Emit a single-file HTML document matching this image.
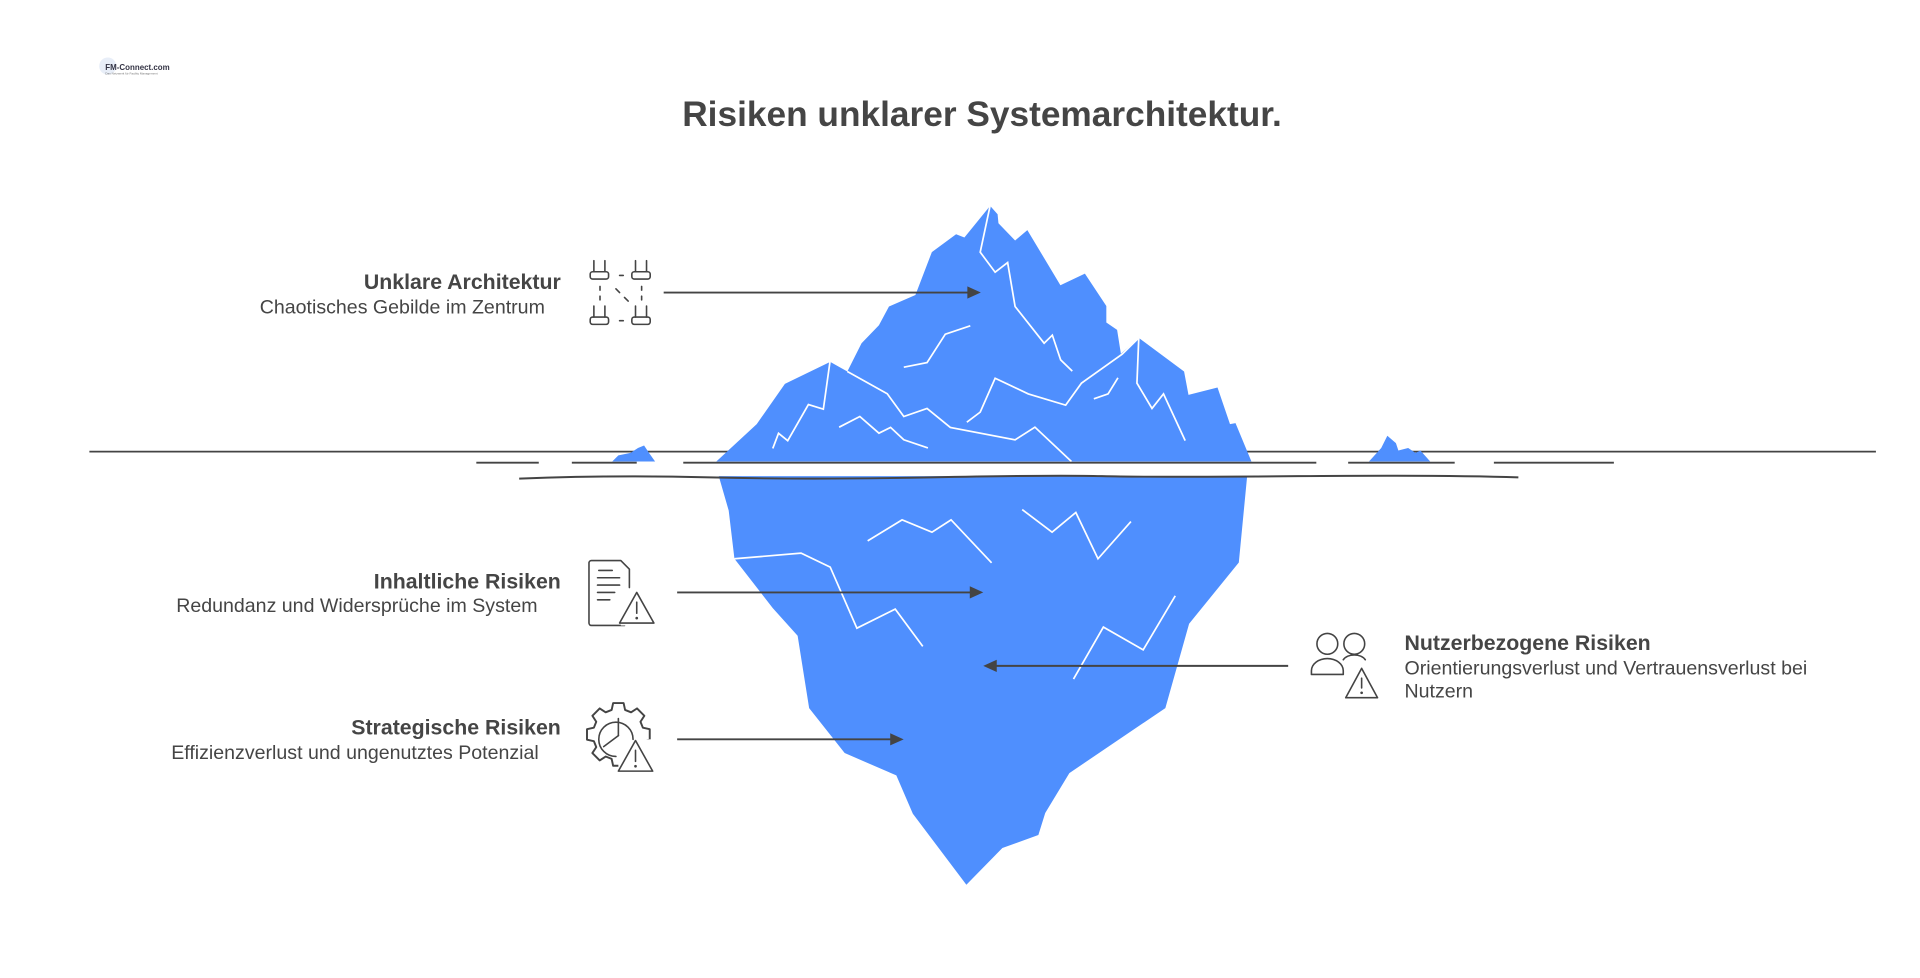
<!DOCTYPE html>
<html><head><meta charset="utf-8"><style>
html,body{margin:0;padding:0;background:#fff;width:1920px;height:978px;overflow:hidden}
svg{display:block}
text{font-family:"Liberation Sans",Arial,sans-serif;fill:#454545}
</style></head><body>
<svg width="1920" height="978" viewBox="0 0 1568 799" preserveAspectRatio="none" xmlns="http://www.w3.org/2000/svg">
<rect width="1568" height="799" fill="#fff"/>
<!-- logo -->
<circle cx="88" cy="54" r="7" fill="#e8eef8"/>
<text x="86" y="57" font-size="6.5" font-weight="bold" style="fill:#334">FM-Connect.com</text>
<text x="86" y="61" font-size="2.5" style="fill:#777">Das Netzwerk für Facility Management</text>

<text x="802" y="103" font-size="28.8" font-weight="bold" text-anchor="middle">Risiken unklarer Systemarchitektur.</text>

<!-- water lines -->
<line x1="73" y1="369" x2="1532" y2="369" stroke="#444" stroke-width="1.4"/>

<!-- iceberg top -->
<polygon fill="#4F8FFE" points="585,377 618,346.5 641,313.6 678,295.6 692,303.5 703.6,280.4 717.8,265.7 726,250.4 747.6,241 761,206 780.8,191.4 787.6,194 808.6,168.2 814.7,175 815.4,182.4 829,196.5 839,188 866,233 886,223.5 903.5,250 903.5,263.5 912.3,269.5 915.4,289 930,276 967,303.5 970.6,322.6 994.3,316.6 1004.5,346.5 1009,345.7 1022,377"/>
<g fill="none" stroke="#fff" stroke-width="1.4">
<polyline points="808.6,168 800.5,206 812.7,222.4 822.9,214.5 829,250.4 852.7,280.4 859.4,273.8 866.2,294 875.7,303.2"/>
<polyline points="738.1,300 757.1,296.2 772,273 792.4,266.2"/>
<polyline points="677.8,295.6 672.4,334.3 660.2,330.5 643.3,360 635.8,354 631.1,366.4"/>
<polyline points="692,303.5 724.6,321.7 738.1,340.3 757.1,333.7 776.1,349.2 829,359.3 845.2,349 875,377"/>
<polyline points="685.3,349 702.2,340.3 717.8,353.9 727.3,349.2 738.1,359.3 757.8,366"/>
<polyline points="789.6,344.9 800.5,336.7 812.7,309 839.8,321.8 870.3,331 883.2,313 916.4,289.4 930,276"/>
<polyline points="893.3,325.8 904.9,321.8 913,308.7"/>
<polyline points="930,276 928.5,313 940.8,333.7 950.2,321.8 967.9,360"/>
</g>
<!-- small icebergs -->
<polygon fill="#4F8FFE" points="500,377 505,372 515,370 521,366 526,364 530,370 535,377"/>
<polygon fill="#4F8FFE" points="1118,377 1128,366 1133,356 1140,362 1142,368 1150,366 1156,370 1160,368 1168,377"/>

<!-- iceberg bottom -->
<polygon fill="#4F8FFE" points="586.7,388 595.1,417.1 599.8,456.5 631.1,496.8 651.4,519.4 660.8,578.5 689.8,615.2 732,633.5 745.5,664.8 789.2,722.8 818.6,692.8 848,682.2 853.6,664.2 873.3,631.6 951.7,578.5 971.1,509.6 1011.7,459.5 1018.6,388"/>
<g fill="none" stroke="#fff" stroke-width="1.4">
<polyline points="599.8,456.5 654.2,451.9 678,463.3 699.8,513.2 731.1,497.6 753.6,528.1"/>
<polyline points="708.6,441.9 736.7,424.7 761.1,434.8 776.7,424.7 809.8,459.8"/>
<polyline points="834.8,416.3 859.2,434.8 878.6,418.7 896.7,456.5 923.6,426.1"/>
<polyline points="876.7,554.8 901.1,512.3 933.6,530.9 959.8,486.8"/>
</g>

<!-- white band & lines -->
<rect x="560" y="379" width="480" height="10" fill="#fff"/>
<g stroke="#444" stroke-width="1.6" fill="none">
<line x1="389" y1="378" x2="440" y2="378"/>
<line x1="467" y1="378" x2="520" y2="378"/>
<line x1="558" y1="378" x2="1075" y2="378"/>
<line x1="1101" y1="378" x2="1188" y2="378"/>
<line x1="1220" y1="378" x2="1318" y2="378"/>
<path d="M424,391 Q500,388 580,390 T760,390 T900,389 T1060,389 T1240,390"/>
</g>

<!-- arrows -->
<g stroke="#444" stroke-width="1.6">
<line x1="542" y1="239" x2="792" y2="239"/>
<line x1="553" y1="484" x2="794" y2="484"/>
<line x1="553" y1="604" x2="729" y2="604"/>
<line x1="812" y1="544" x2="1052" y2="544"/>
</g>
<g fill="#444">
<polygon points="801,239 790,234 790,244"/>
<polygon points="803,484 792,479 792,489"/>
<polygon points="738,604 727,599 727,609"/>
<polygon points="803,544 814,539 814,549"/>
</g>

<!-- texts -->
<text x="458" y="236" font-size="17.4" font-weight="bold" text-anchor="end">Unklare Architektur</text>
<text x="445" y="256" font-size="16" text-anchor="end">Chaotisches Gebilde im Zentrum</text>
<text x="458" y="481" font-size="17.4" font-weight="bold" text-anchor="end">Inhaltliche Risiken</text>
<text x="439" y="500" font-size="16" text-anchor="end">Redundanz und Widersprüche im System</text>
<text x="458" y="600" font-size="17.4" font-weight="bold" text-anchor="end">Strategische Risiken</text>
<text x="440" y="620" font-size="16" text-anchor="end">Effizienzverlust und ungenutztes Potenzial</text>
<text x="1147" y="531" font-size="17.4" font-weight="bold">Nutzerbezogene Risiken</text>
<text x="1147" y="551" font-size="16">Orientierungsverlust und Vertrauensverlust bei</text>
<text x="1147" y="570" font-size="16">Nutzern</text>

<!-- icons -->
<g fill="none" stroke="#444" stroke-width="1.3" stroke-linecap="round" stroke-linejoin="round">
<!-- unklare -->
<g><rect x="482" y="222" width="15" height="6" rx="2"/><line x1="485" y1="222" x2="485" y2="213"/><line x1="494" y1="222" x2="494" y2="213"/></g>
<g transform="translate(34,0)"><rect x="482" y="222" width="15" height="6" rx="2"/><line x1="485" y1="222" x2="485" y2="213"/><line x1="494" y1="222" x2="494" y2="213"/></g>
<g transform="translate(0,37)"><rect x="482" y="222" width="15" height="6" rx="2"/><line x1="485" y1="222" x2="485" y2="213"/><line x1="494" y1="222" x2="494" y2="213"/></g>
<g transform="translate(34,37)"><rect x="482" y="222" width="15" height="6" rx="2"/><line x1="485" y1="222" x2="485" y2="213"/><line x1="494" y1="222" x2="494" y2="213"/></g>
<line x1="506" y1="225" x2="509" y2="225"/><line x1="506" y1="262" x2="509" y2="262"/>
<line x1="490" y1="234" x2="490" y2="237"/><line x1="490" y1="242" x2="490" y2="245"/>
<line x1="524" y1="234" x2="524" y2="237"/><line x1="524" y1="242" x2="524" y2="245"/>
<line x1="503" y1="236" x2="506" y2="239"/><line x1="510" y1="243" x2="513" y2="246"/>
<!-- doc -->
<path d="M510,496 V511 H483 a2,2 0 0 1 -2,-2 V460 a2,2 0 0 1 2,-2 H507 L514,465 V480"/>
<line x1="489" y1="466" x2="500" y2="466"/><line x1="488" y1="472" x2="506" y2="472"/>
<line x1="488" y1="478" x2="506" y2="478"/><line x1="488" y1="484" x2="502" y2="484"/><line x1="488" y1="490" x2="498" y2="490"/>
<rect x="507" y="484" width="27" height="27" fill="#fff" stroke="none"/>
<path d="M520,484 L534,509 H506 Z"/><line x1="520" y1="492" x2="520" y2="501"/>
<!-- gear -->
<path d="M501.5,579 L508.5,579 L509.5,583.6 L513.5,585.2 L517.5,582.6 L522.4,587.5 L519.8,591.5 L521.4,595.5 L526,596.5 L526,603.5 L521.4,604.5 L519.8,608.5 L522.4,612.5 L517.5,617.4 L513.5,614.8 L509.5,616.4 L508.5,621 L501.5,621 L500.5,616.4 L496.5,614.8 L492.5,617.4 L487.6,612.5 L490.2,608.5 L488.6,604.5 L484,603.5 L484,596.5 L488.6,595.5 L490.2,591.5 L487.6,587.5 L492.5,582.6 L496.5,585.2 L500.5,583.6 Z" transform="translate(505,600) scale(1.22) translate(-505,-600)"/>
<rect x="505" y="604" width="30" height="28" fill="#fff" stroke="none"/>
<path d="M503,618 A14,14 0 1 1 517,604"/>
<line x1="505" y1="587" x2="505" y2="601"/><line x1="505" y1="601" x2="493" y2="610"/>
<path d="M519,605 L533,630 H505 Z"/><line x1="519" y1="613" x2="519" y2="622"/>
<!-- users -->
<circle cx="1084" cy="526" r="8.5"/><circle cx="1106" cy="526" r="8.5"/>
<path d="M1071,551 v-3 a13,10 0 0 1 26,0 v3 Z"/>
<path d="M1097,539 a10,7 0 0 1 18,0"/>
<path d="M1112,546 L1125,570 H1099 Z"/><line x1="1112" y1="554" x2="1112" y2="562"/>
</g>
<g fill="#444"><circle cx="520" cy="505" r="1.1"/><circle cx="519" cy="626" r="1.1"/><circle cx="1112" cy="566" r="1.1"/></g>
</svg>
</body></html>
